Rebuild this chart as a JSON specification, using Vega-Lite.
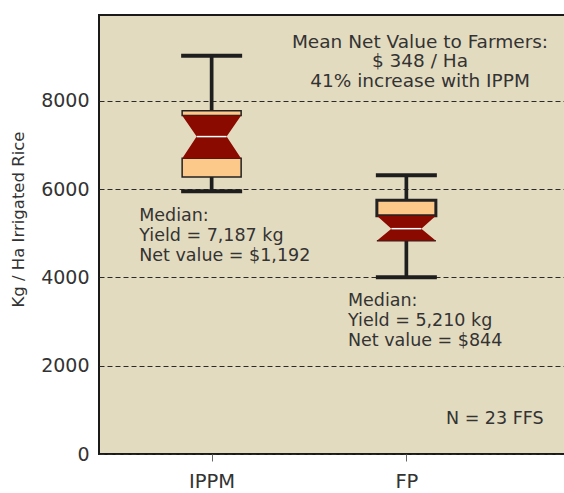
{
  "$schema": "https://vega.github.io/schema/vega-lite/v6.json",
  "autosize": "none",
  "padding": {"left": 99, "top": 15, "right": 0, "bottom": 39},
  "width": 466,
  "height": 439,
  "background": "white",
  "config": {
    "view": {"fill": "#e3dbbf", "stroke": "#1a1a1a", "strokeWidth": 2},
    "font": "DejaVu Sans",
    "text": {"font": "DejaVu Sans", "color": "#333333"}
  },
  "datasets": {
    "boxes": [
      {"group": "IPPM", "pos": 1, "min": 5950, "q1": 6273, "nlow": 6694, "median": 7187, "nhigh": 7667, "q3": 7774, "max": 9020},
      {"group": "FP", "pos": 2, "min": 4000, "q1": 4830, "nlow": 4830, "median": 5102, "nhigh": 5396, "q3": 5743, "max": 6310}
    ]
  },
  "layer": [
    {
      "data": {"name": "boxes"},
      "mark": {"type": "rule", "color": "#1e1e1e", "strokeWidth": 3.7},
      "encoding": {
        "x": {"field": "pos", "type": "quantitative",
              "scale": {"domain": [0.4472, 2.789], "nice": false, "zero": false},
              "axis": {"values": [1, 2], "labelExpr": "datum.value == 1 ? 'IPPM' : 'FP'", "grid": false, "domain": false,
                       "ticks": true, "tickSize": 7, "tickColor": "#666666", "tickWidth": 1,
                       "labelFontSize": 19.5, "labelColor": "#333333", "labelFont": "DejaVu Sans", "labelPadding": 11, "title": null}},
        "y": {"field": "min", "type": "quantitative",
              "scale": {"domain": [0, 9940], "nice": false, "zero": true},
              "axis": {"values": [0, 2000, 4000, 6000, 8000], "format": "d", "grid": true, "gridDash": [5, 3], "gridColor": "#2a2a2a", "gridWidth": 1.1,
                       "domain": false, "ticks": false, "labelPadding": 10, "labelFontSize": 19, "labelColor": "#333333", "labelFont": "DejaVu Sans",
                       "title": "Kg / Ha Irrigated Rice", "titleFontSize": 16.5, "titleFontWeight": "normal", "titleColor": "#333333", "titleFont": "DejaVu Sans",
                       "titleX": -81, "titleY": 204, "titleAngle": -90, "titleAlign": "center", "titleBaseline": "middle"}},
        "y2": {"field": "max"}
      }
    },
    {
      "data": {"name": "boxes"},
      "mark": {"type": "tick", "orient": "horizontal", "size": 61, "thickness": 4, "color": "#1e1e1e", "opacity": 1},
      "encoding": {"x": {"field": "pos", "type": "quantitative"}, "y": {"field": "min", "type": "quantitative"}}
    },
    {
      "data": {"name": "boxes"},
      "mark": {"type": "tick", "orient": "horizontal", "size": 61, "thickness": 4, "color": "#1e1e1e", "opacity": 1},
      "encoding": {"x": {"field": "pos", "type": "quantitative"}, "y": {"field": "max", "type": "quantitative"}}
    },
    {
      "data": {"name": "boxes"},
      "mark": {"type": "bar", "size": 59, "fill": "#fdc98a", "stroke": "#222222"},
      "encoding": {
        "x": {"field": "pos", "type": "quantitative"},
        "y": {"field": "nhigh", "type": "quantitative"},
        "y2": {"field": "q3"},
        "strokeWidth": {"field": "group", "type": "nominal", "scale": {"domain": ["IPPM", "FP"], "range": [1.5, 3]}, "legend": null}
      }
    },
    {
      "data": {"name": "boxes"},
      "mark": {"type": "bar", "size": 59, "fill": "#fdc98a", "stroke": "#222222", "strokeWidth": 1.5},
      "encoding": {
        "x": {"field": "pos", "type": "quantitative"},
        "y": {"field": "q1", "type": "quantitative"},
        "y2": {"field": "nlow"}
      }
    },
    {
      "data": {"name": "boxes"},
      "mark": {"type": "point", "filled": true, "size": 4, "color": "#8a0a00", "opacity": 1, "strokeWidth": 0},
      "encoding": {
        "x": {"field": "pos", "type": "quantitative"},
        "y": {"field": "median", "type": "quantitative"},
        "shape": {"field": "group", "type": "nominal",
                  "scale": {"domain": ["IPPM", "FP"],
                            "range": ["M-29.5,-21.2L29.5,-21.2L15,0L29.5,21.8L-29.5,21.8L-15,0Z",
                                      "M-29.5,-13L29.5,-13L15,0L29.5,12L-29.5,12L-15,0Z"]},
                  "legend": null}
      }
    },
    {
      "data": {"name": "boxes"},
      "mark": {"type": "tick", "orient": "horizontal", "size": 30, "thickness": 1.5, "color": "#ffffff", "opacity": 1},
      "encoding": {"x": {"field": "pos", "type": "quantitative"}, "y": {"field": "median", "type": "quantitative"}}
    },
    {
      "data": {"values": [{"label": "Mean Net Value to Farmers:\n$ 348 / Ha\n41% increase with IPPM"}]},
      "mark": {"type": "text", "align": "center", "baseline": "alphabetic", "fontSize": 18.5, "lineHeight": 19.5, "lineBreak": "\n"},
      "encoding": {"x": {"datum": 2.07, "type": "quantitative"}, "y": {"datum": 9193, "type": "quantitative"}, "text": {"field": "label"}}
    },
    {
      "data": {"values": [{"label": "Median:\nYield = 7,187 kg\nNet value = $1,192"}]},
      "mark": {"type": "text", "align": "left", "baseline": "alphabetic", "fontSize": 17.5, "lineHeight": 20, "lineBreak": "\n"},
      "encoding": {"x": {"datum": 0.628, "type": "quantitative"}, "y": {"datum": 5267, "type": "quantitative"}, "text": {"field": "label"}}
    },
    {
      "data": {"values": [{"label": "Median:\nYield = 5,210 kg\nNet value = $844"}]},
      "mark": {"type": "text", "align": "left", "baseline": "alphabetic", "fontSize": 17.5, "lineHeight": 20, "lineBreak": "\n"},
      "encoding": {"x": {"datum": 1.7, "type": "quantitative"}, "y": {"datum": 3358, "type": "quantitative"}, "text": {"field": "label"}}
    },
    {
      "data": {"values": [{"label": "N = 23 FFS"}]},
      "mark": {"type": "text", "align": "right", "baseline": "alphabetic", "fontSize": 17.5},
      "encoding": {"x": {"datum": 2.705, "type": "quantitative"}, "y": {"datum": 686, "type": "quantitative"}, "text": {"field": "label"}}
    }
  ]
}
